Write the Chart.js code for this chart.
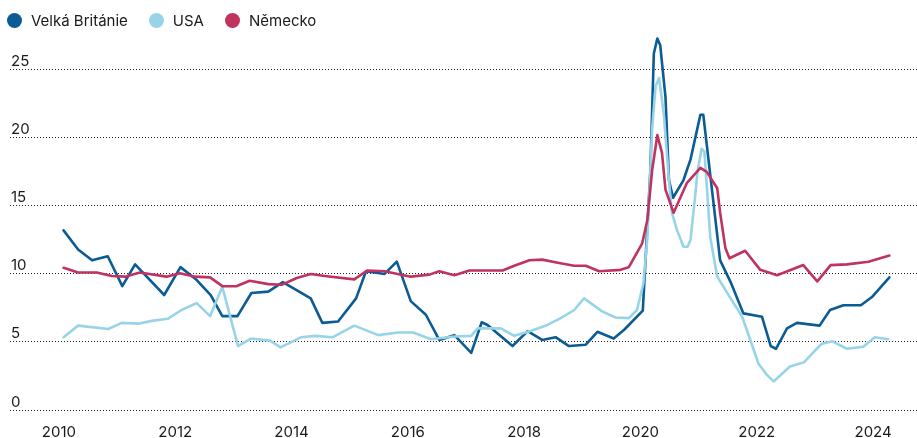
<!DOCTYPE html>
<html lang="cs">
<head>
<meta charset="UTF-8">
<title>Graf</title>
<script src="https://cdn.jsdelivr.net/npm/chart.js"></script>
<style>
  body { margin: 0; background: #fff; }
  .obal { position: relative; width: 917px; height: 438px; font-family: Inter, "Liberation Sans", sans-serif; }
  .legenda { position: absolute; top: 11px; left: 7px; display: flex; align-items: center; gap: 21px; font-size: 15px; color: #1a1a1a; }
  .polozka { display: flex; align-items: center; }
  .tecka { width: 15px; height: 15px; border-radius: 50%; margin-right: 9px; }
  canvas { position: absolute; left: 0; top: 0; }
</style>
</head>
<body>
<div class="obal">
  <canvas id="graf" width="917" height="438"></canvas>
  <div class="legenda" id="legenda"></div>
</div>

<script>
// data (roky jako desetinná čísla)
const ukRoky = [2010.08, 2010.33, 2010.57, 2010.84, 2011.09, 2011.31, 2011.81, 2012.09, 2012.37, 2012.61, 2012.81, 2013.07, 2013.31, 2013.6, 2013.85, 2014.33, 2014.53, 2014.8, 2015.11, 2015.28, 2015.6, 2015.81, 2016.05, 2016.31, 2016.54, 2016.8, 2017.09, 2017.27, 2017.37, 2017.8, 2018.06, 2018.31, 2018.54, 2018.77, 2019.06, 2019.26, 2019.54, 2019.72, 2020.04, 2020.17, 2020.23, 2020.29, 2020.34, 2020.43, 2020.49, 2020.56, 2020.74, 2020.86, 2021.03, 2021.08, 2021.37, 2021.55, 2021.77, 2022.09, 2022.24, 2022.33, 2022.52, 2022.69, 2023.08, 2023.26, 2023.49, 2023.79, 2023.98, 2024.28];
const ukHodnoty = [13.2, 11.8, 11.0, 11.3, 9.1, 10.7, 8.45, 10.5, 9.55, 8.45, 6.9, 6.9, 8.6, 8.7, 9.4, 8.2, 6.4, 6.5, 8.2, 10.2, 10.0, 10.9, 8.0, 7.0, 5.15, 5.5, 4.2, 6.45, 6.25, 4.7, 5.8, 5.15, 5.35, 4.7, 4.8, 5.75, 5.25, 5.9, 7.3, 17.6, 26.2, 27.3, 26.8, 23.0, 16.9, 15.6, 16.9, 18.4, 21.7, 21.7, 11.0, 9.4, 7.1, 6.85, 4.7, 4.5, 6.0, 6.4, 6.2, 7.35, 7.7, 7.7, 8.3, 9.75];

const usaRoky = [2010.08, 2010.33, 2010.85, 2011.08, 2011.38, 2011.6, 2011.87, 2012.11, 2012.37, 2012.6, 2012.81, 2013.08, 2013.3, 2013.63, 2013.81, 2014.17, 2014.4, 2014.71, 2015.08, 2015.49, 2015.83, 2016.09, 2016.4, 2016.8, 2017.09, 2017.2, 2017.6, 2017.83, 2018.11, 2018.4, 2018.63, 2018.86, 2019.03, 2019.34, 2019.57, 2019.8, 2019.94, 2020.05, 2020.12, 2020.2, 2020.26, 2020.32, 2020.4, 2020.49, 2020.54, 2020.63, 2020.74, 2020.81, 2020.86, 2020.94, 2020.98, 2021.05, 2021.1, 2021.2, 2021.32, 2021.55, 2021.75, 2022.03, 2022.17, 2022.29, 2022.57, 2022.81, 2023.11, 2023.3, 2023.55, 2023.83, 2024.03, 2024.26];
const usaHodnoty = [5.35, 6.2, 5.95, 6.4, 6.35, 6.55, 6.7, 7.35, 7.85, 6.9, 9.05, 4.7, 5.25, 5.1, 4.6, 5.35, 5.45, 5.35, 6.2, 5.5, 5.7, 5.7, 5.2, 5.4, 5.45, 6.0, 6.0, 5.45, 5.8, 6.25, 6.75, 7.35, 8.2, 7.25, 6.8, 6.75, 7.35, 9.3, 12.7, 20.6, 23.8, 24.4, 21.8, 16.9, 14.5, 13.2, 12.0, 12.0, 12.5, 15.7, 17.5, 19.2, 19.0, 12.7, 9.8, 8.2, 6.85, 3.4, 2.6, 2.1, 3.2, 3.5, 4.85, 5.05, 4.5, 4.65, 5.35, 5.2];

const nemeckoRoky = [2010.08, 2010.33, 2010.65, 2010.91, 2011.14, 2011.39, 2011.85, 2012.08, 2012.34, 2012.6, 2012.81, 2013.05, 2013.28, 2013.6, 2013.83, 2014.09, 2014.33, 2014.57, 2015.08, 2015.3, 2015.6, 2016.05, 2016.37, 2016.54, 2016.8, 2017.06, 2017.63, 2017.83, 2018.09, 2018.31, 2018.6, 2018.86, 2019.06, 2019.29, 2019.66, 2019.8, 2020.03, 2020.12, 2020.2, 2020.29, 2020.37, 2020.43, 2020.57, 2020.8, 2021.03, 2021.14, 2021.32, 2021.37, 2021.46, 2021.53, 2021.8, 2022.06, 2022.35, 2022.8, 2023.04, 2023.27, 2023.55, 2023.92, 2024.28];
const nemeckoHodnoty = [10.45, 10.1, 10.1, 9.85, 9.8, 10.1, 9.8, 10.05, 9.8, 9.75, 9.1, 9.1, 9.5, 9.25, 9.2, 9.7, 10.0, 9.85, 9.6, 10.25, 10.2, 9.8, 9.95, 10.2, 9.9, 10.25, 10.25, 10.6, 11.0, 11.05, 10.8, 10.6, 10.6, 10.2, 10.3, 10.5, 12.25, 14.0, 17.6, 20.2, 18.9, 16.2, 14.5, 16.7, 17.8, 17.5, 16.3, 14.5, 11.9, 11.15, 11.7, 10.3, 9.9, 10.65, 9.45, 10.65, 10.7, 10.9, 11.35];

const nazvy = ['Velká Británie', 'USA', 'Německo'];
const barvy = ['#0b5b94', '#97d4e8', '#c0335f'];
const xPopisky = [2010, 2012, 2014, 2016, 2018, 2020, 2022, 2024];
const yPopisky = [0, 5, 10, 15, 20, 25];

function body(roky, hodnoty) {
    return roky.map((r, i) => ({ x: r, y: hodnoty[i] }));
}

const serie = [body(ukRoky, ukHodnoty), body(usaRoky, usaHodnoty), body(nemeckoRoky, nemeckoHodnoty)];
const poradi = [2, 1, 0]; // nemecko nahore

// legenda
const legenda = document.getElementById('legenda');
nazvy.forEach((n, i) => {
    legenda.innerHTML += `<div class="polozka"><span class="tecka" style="background:${barvy[i]}"></span>${n}</div>`;
});

const pismo = { family: 'Inter, "Liberation Sans", sans-serif', size: 15 };

new Chart(document.getElementById('graf'), {
    type: 'line',
    data: {
        datasets: serie.map((s, i) => ({
            label: nazvy[i],
            data: s,
            borderColor: barvy[i],
            borderWidth: 2.6,
            pointRadius: 0,
            tension: 0,
            borderJoinStyle: 'round',
            borderCapStyle: 'round',
            fill: false,
            order: poradi[i]
        }))
    },
    options: {
        responsive: false,
        animation: false,
        layout: { padding: { left: 8, right: 0, top: 29, bottom: -16 } },
        plugins: { legend: { display: false }, tooltip: { enabled: false } },
        scales: {
            x: {
                type: 'linear',
                min: 2009.159,
                max: 2024.755,
                afterBuildTicks: osa => { osa.ticks = xPopisky.map(v => ({ value: v })); },
                grid: { display: false, drawTicks: false },
                border: { display: false },
                ticks: { color: '#1a1a1a', font: pismo, padding: 13, maxRotation: 0, callback: v => String(v) }
            },
            y: {
                min: 0,
                max: 28,
                afterBuildTicks: osa => { osa.ticks = yPopisky.map(v => ({ value: v })); },
                grid: { color: '#222', lineWidth: 1, drawTicks: false },
                border: { display: false, dash: [1, 2] },
                ticks: { color: '#1a1a1a', font: pismo, mirror: true, padding: 1, labelOffset: -8 }
            }
        }
    }
});
</script>
</body>
</html>
